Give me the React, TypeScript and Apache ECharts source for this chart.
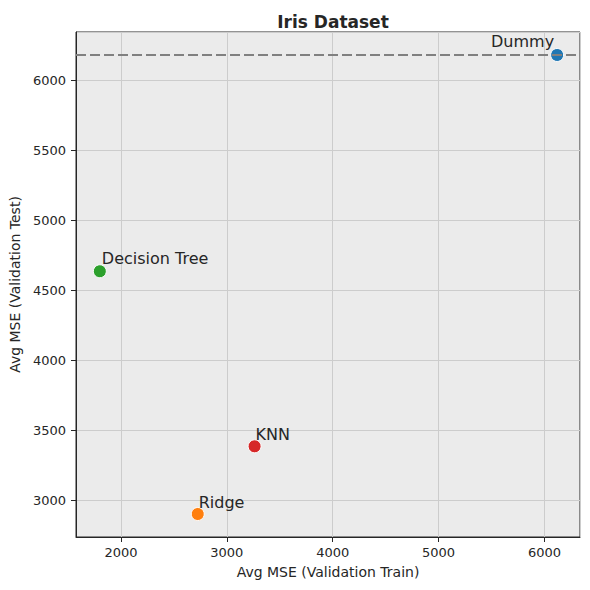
import { useEffect, useRef } from 'react';
import * as echarts from 'echarts';

const models = ['Dummy', 'Ridge', 'Decision Tree', 'KNN'];
const trainMse = [6120, 2725, 1800, 3262];
const testMse = [6180, 2905, 4637, 3388];
const dummyBaseline = 6180;

const colors = ['#1f77b4', '#ff7f0e', '#2ca02c', '#d62728'];
// label placement per model (relative to the symbol box)
const labelPos: { position: [number, number]; align: 'left' | 'right' }[] = [
  { position: [4, -6], align: 'right' },
  { position: [8, -5], align: 'left' },
  { position: [9, -6], align: 'left' },
  { position: [8, -5], align: 'left' },
];

const FONT = 'DejaVu Sans';
const TEXT = '#262626';

const tickLabel = (margin: number) => ({
  fontFamily: FONT,
  fontSize: 13,
  color: TEXT,
  margin,
  showMinLabel: false,
  showMaxLabel: false,
  formatter: (v: number) => String(v),
});

export default function App() {
  const chartRef = useRef<HTMLDivElement>(null);

  useEffect(() => {
    if (!chartRef.current) return;
    const chart = echarts.init(chartRef.current, undefined, { renderer: 'svg' });

    const option: echarts.EChartsOption = {
      animation: false,
      backgroundColor: '#ffffff',
      textStyle: { fontFamily: FONT, color: TEXT },
      title: {
        text: 'Iris Dataset',
        left: 328,
        top: 8,
        textAlign: 'center',
        textStyle: { fontFamily: FONT, fontSize: 17, fontWeight: 'bold', color: TEXT },
      },
      grid: {
        left: 75,
        right: 10,
        top: 32,
        bottom: 53,
        show: true,
        backgroundColor: '#ebebeb',
        borderColor: TEXT,
        borderWidth: 1,
      },
      xAxis: {
        type: 'value',
        min: 1575,
        max: 6336,
        minInterval: 1000,
        maxInterval: 1000,
        name: 'Avg MSE (Validation Train)',
        nameLocation: 'middle',
        nameGap: 28,
        nameTextStyle: { fontFamily: FONT, fontSize: 14, color: TEXT },
        axisLine: { show: true, lineStyle: { color: TEXT, width: 1 } },
        axisTick: { show: true, length: 5, lineStyle: { color: TEXT } },
        axisLabel: tickLabel(9),
        splitLine: { show: true, lineStyle: { color: '#cccccc', width: 1 } },
      },
      yAxis: {
        type: 'value',
        min: 2741,
        max: 6344,
        minInterval: 500,
        maxInterval: 500,
        name: 'Avg MSE (Validation Test)',
        nameLocation: 'middle',
        nameGap: 54,
        nameTextStyle: { fontFamily: FONT, fontSize: 14, color: TEXT },
        axisLine: { show: true, lineStyle: { color: TEXT, width: 1 } },
        axisTick: { show: true, length: 5, lineStyle: { color: TEXT } },
        axisLabel: tickLabel(10),
        splitLine: { show: true, lineStyle: { color: '#cccccc', width: 1 } },
      },
      series: [
        {
          type: 'line',
          data: [],
          z: 1,
          markLine: {
            silent: true,
            symbol: 'none',
            label: { show: false },
            lineStyle: { color: '#808080', width: 2, type: [10, 4], opacity: 1 },
            data: [{ yAxis: dummyBaseline }],
          },
        },
        {
          type: 'scatter',
          z: 3,
          symbolSize: 13,
          data: models.map((name, i) => ({
            name,
            value: [trainMse[i], testMse[i]],
            itemStyle: { color: colors[i], borderColor: '#ffffff', borderWidth: 1, opacity: 1 },
            label: {
              show: true,
              formatter: name,
              position: labelPos[i].position,
              align: labelPos[i].align,
              verticalAlign: 'middle',
              fontFamily: FONT,
              fontSize: 16,
              color: TEXT,
            },
          })),
        },
      ],
    };

    chart.setOption(option);
    return () => chart.dispose();
  }, []);

  return (
    <div
      ref={chartRef}
      style={{ position: 'fixed', left: 0, top: 0, width: 590, height: 590 }}
    />
  );
}
